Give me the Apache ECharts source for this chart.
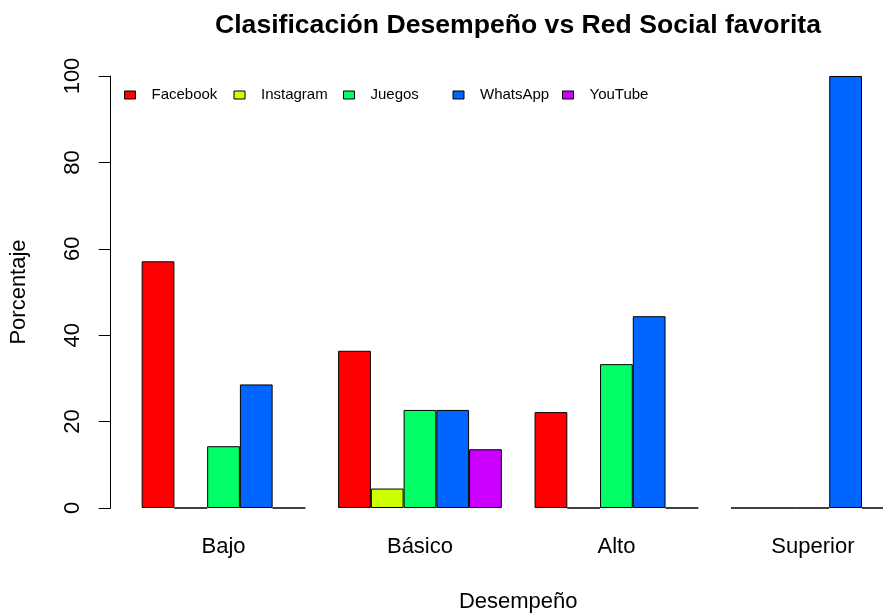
<!DOCTYPE html>
<html>
<head>
<meta charset="utf-8">
<script src="https://cdn.jsdelivr.net/npm/echarts@6/dist/echarts.min.js"></script>
<style>
html,body{margin:0;padding:0;background:#fff;}
#chart{width:883px;height:613px;}
</style>
</head>
<body>
<div id="chart"></div>
<script>
const categories = ['Bajo', 'Básico', 'Alto', 'Superior'];
const facebook  = [57.1, 36.4, 22.2, 0];
const instagram = [0, 4.5, 0, 0];
const juegos    = [14.3, 22.7, 33.3, 0];
const whatsapp  = [28.6, 22.7, 44.4, 100];
const youtube   = [0, 13.6, 0, 0];
const seriesNames = ['Facebook', 'Instagram', 'Juegos', 'WhatsApp', 'YouTube'];
const seriesColors = ['#FF0000', '#CCFF00', '#00FF66', '#0066FF', '#CC00FF'];
const yTicks = [0, 20, 40, 60, 80, 100];

const seriesData = [facebook, instagram, juegos, whatsapp, youtube];
const FONT = '"Liberation Sans", Arial, Helvetica, sans-serif';

const chart = echarts.init(document.getElementById('chart'), null, {renderer: 'canvas'});
chart.setOption({
  animation: false,
  backgroundColor: '#ffffff',
  title: {
    text: 'Clasificación Desempeño vs Red Social favorita',
    left: 518, textAlign: 'center', top: 12, padding: 0,
    textStyle: {fontFamily: FONT, fontSize: 26.6, fontWeight: 'bold', color: '#000'}
  },
  legend: seriesNames.map((n, i) => ({
    data: [n], left: 124 + 109.5 * i, top: 87.5, padding: 0,
    itemWidth: 11, itemHeight: 8, icon: 'rect', selectedMode: false,
    itemStyle: {borderColor: '#000', borderWidth: 1},
    textStyle: {fontFamily: FONT, fontSize: 15, color: '#000', padding: [0, 0, 0, 11]}
  })),
  grid: {left: 125.3, width: 785.8, top: 76, height: 432, containLabel: false, outerBoundsMode: 'none'},
  xAxis: {
    type: 'category', data: categories,
    axisLine: {show: false}, axisTick: {show: false},
    axisLabel: {fontFamily: FONT, fontSize: 22, color: '#000', margin: 28},
    name: 'Desempeño', nameLocation: 'middle', nameGap: 83,
    nameTextStyle: {fontFamily: FONT, fontSize: 22, color: '#000'}
  },
  yAxis: {
    type: 'value', min: yTicks[0], max: yTicks[yTicks.length - 1], interval: 20,
    offset: 14.6,
    axisLine: {show: true, lineStyle: {color: '#000', width: 1}},
    axisTick: {show: true, length: 12, lineStyle: {color: '#000'}},
    splitLine: {show: false},
    axisLabel: {fontFamily: FONT, fontSize: 22, color: '#000', rotate: 90, margin: 27},
    name: 'Porcentaje', nameLocation: 'middle', nameGap: 81, nameRotate: 90,
    nameTextStyle: {fontFamily: FONT, fontSize: 22, color: '#000'}
  },
  series: seriesNames.map((n, i) => ({
    name: n, type: 'bar', data: seriesData[i],
    barGap: '0%', barCategoryGap: '16.667%',
    itemStyle: {color: seriesColors[i], borderColor: '#000', borderWidth: 1},
    emphasis: {disabled: true}
  }))
});
</script>
</body>
</html>
